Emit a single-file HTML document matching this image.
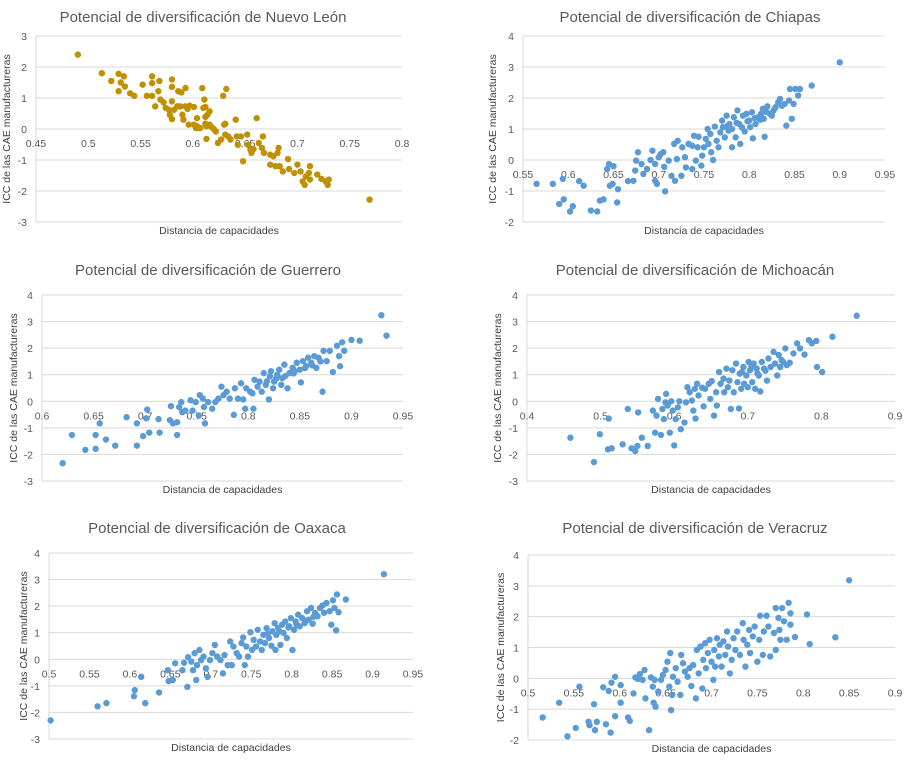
<!DOCTYPE html>
<html><head><meta charset="utf-8">
<style>
body{margin:0;background:#fff;}
svg{display:block;font-family:"Liberation Sans",sans-serif;}
</style></head>
<body>
<svg id="fig" width="911" height="763" viewBox="0 0 911 763"></svg>
<script>
// ---- Data (Distancia de capacidades, ICC) ----
const xNuevoLeon=[0.490,0.513,0.522,0.529,0.534,0.529,0.531,0.535,0.540,0.544,0.552,0.556,0.561,0.561,0.561,0.564,0.568,0.567,0.569,0.572,0.574,0.577,0.580,0.580,0.580,0.578,0.580,0.582,0.585,0.586,0.589,0.588,0.590,0.591,0.593,0.593,0.595,0.596,0.597,0.601,0.601,0.603,0.604,0.606,0.604,0.607,0.609,0.610,0.611,0.612,0.612,0.612,0.613,0.613,0.614,0.616,0.616,0.618,0.620,0.622,0.624,0.627,0.629,0.630,0.631,0.631,0.632,0.634,0.636,0.641,0.642,0.643,0.646,0.648,0.652,0.653,0.655,0.656,0.658,0.661,0.663,0.667,0.666,0.668,0.674,0.674,0.677,0.679,0.681,0.682,0.683,0.686,0.691,0.692,0.697,0.700,0.703,0.705,0.707,0.708,0.711,0.712,0.712,0.719,0.723,0.727,0.729,0.730,0.769];
const yNuevoLeon=[2.40,1.80,1.55,1.78,1.70,1.22,1.50,1.37,1.15,1.07,1.43,1.07,1.70,1.48,1.07,0.73,1.55,1.22,0.95,0.86,0.68,0.62,1.60,1.36,0.89,0.46,0.32,0.62,0.73,1.22,1.18,0.73,0.46,0.30,1.32,0.73,0.65,0.14,0.75,0.71,0.14,0.03,0.09,0.03,0.35,0.03,1.32,0.68,0.95,0.71,0.39,0.17,0.09,-0.32,0.46,0.57,0.14,0.06,0.00,-0.08,-0.45,-0.34,1.07,0.14,0.17,-0.18,1.29,-0.24,-0.34,0.30,-0.24,-0.51,-0.24,-1.04,-0.18,-0.51,-0.67,-0.77,-0.65,0.35,-0.45,-0.24,-0.61,-0.77,-0.83,-1.15,-0.88,-1.20,-0.77,-0.61,-1.20,-1.37,-0.97,-1.29,-1.42,-1.15,-1.37,-1.69,-1.80,-1.53,-1.42,-1.20,-1.63,-1.47,-1.61,-1.69,-1.80,-1.63,-2.28];

const xChiapas=[0.565,0.583,0.594,0.590,0.595,0.602,0.605,0.612,0.617,0.625,0.632,0.635,0.639,0.643,0.645,0.650,0.646,0.649,0.655,0.654,0.666,0.672,0.674,0.675,0.677,0.681,0.683,0.687,0.691,0.693,0.696,0.696,0.698,0.700,0.702,0.705,0.707,0.706,0.711,0.714,0.717,0.718,0.720,0.721,0.725,0.726,0.729,0.730,0.733,0.737,0.737,0.739,0.741,0.743,0.744,0.747,0.748,0.750,0.752,0.754,0.755,0.757,0.758,0.760,0.762,0.764,0.766,0.768,0.770,0.771,0.773,0.775,0.777,0.778,0.781,0.781,0.783,0.785,0.787,0.789,0.790,0.793,0.795,0.797,0.800,0.801,0.803,0.804,0.807,0.810,0.813,0.815,0.816,0.817,0.820,0.823,0.825,0.829,0.832,0.834,0.836,0.839,0.841,0.844,0.845,0.847,0.849,0.851,0.854,0.856,0.869,0.900,0.776,0.786,0.792,0.798,0.806,0.812,0.819,0.827];
const yChiapas=[-0.77,-0.77,-0.61,-1.42,-1.27,-1.66,-1.49,-0.68,-0.83,-1.63,-1.66,-1.31,-1.27,-0.29,-0.13,-0.20,-0.83,-0.77,-0.94,-1.37,-0.68,-0.67,-0.34,-0.02,0.25,-0.13,-0.45,-0.29,0.00,0.30,-0.13,-0.67,-0.77,0.09,0.19,0.25,-1.01,-0.22,-0.02,-0.51,0.52,-0.67,0.03,0.62,-0.51,0.41,0.09,-0.24,0.52,0.46,-0.29,0.78,-0.02,0.41,0.75,-0.18,0.14,0.41,0.68,1.00,0.52,0.84,0.25,0.00,1.08,0.62,0.41,0.89,1.27,1.06,0.73,1.43,0.95,1.16,0.41,1.00,1.38,0.73,1.60,1.16,0.52,1.43,0.92,1.49,1.27,1.06,1.54,0.70,1.16,1.38,1.49,1.65,1.33,0.75,1.73,1.49,1.43,1.70,1.86,1.97,1.75,1.81,1.11,1.92,2.29,1.33,1.81,2.29,2.08,2.29,2.40,3.15,1.10,1.20,1.05,1.25,1.35,1.30,1.55,1.60];

const xGuerrero=[0.620,0.629,0.642,0.652,0.652,0.656,0.662,0.671,0.682,0.692,0.692,0.698,0.701,0.702,0.704,0.713,0.714,0.724,0.725,0.727,0.731,0.731,0.733,0.735,0.736,0.739,0.744,0.746,0.749,0.752,0.753,0.756,0.757,0.758,0.761,0.765,0.768,0.771,0.774,0.776,0.779,0.782,0.786,0.787,0.790,0.793,0.795,0.797,0.798,0.802,0.804,0.805,0.806,0.809,0.811,0.813,0.815,0.817,0.820,0.821,0.822,0.824,0.825,0.828,0.830,0.832,0.833,0.835,0.838,0.840,0.843,0.845,0.847,0.850,0.851,0.853,0.856,0.858,0.861,0.864,0.866,0.868,0.872,0.873,0.876,0.879,0.882,0.886,0.888,0.889,0.891,0.893,0.900,0.908,0.929,0.934,0.818,0.827,0.836,0.844,0.855,0.862,0.870];
const yGuerrero=[-2.33,-1.27,-1.83,-1.79,-1.27,-0.83,-1.44,-1.67,-0.60,-0.83,-1.67,-1.31,-0.64,-0.31,-1.18,-0.67,-1.18,-0.71,-0.18,-0.83,-1.27,-0.79,-0.22,-0.03,-0.41,-0.35,0.04,-0.35,-0.03,-0.54,0.23,0.10,-0.22,-0.83,-0.03,-0.28,-0.03,0.10,0.55,0.23,0.36,0.10,-0.51,0.49,0.10,0.68,0.07,-0.28,0.49,0.36,0.30,-0.28,0.81,0.55,0.74,0.36,1.06,0.62,0.07,0.94,1.13,0.49,0.74,1.00,1.19,0.62,0.87,1.38,0.49,1.06,1.26,1.13,1.45,1.19,0.71,1.51,1.32,1.64,1.45,1.70,1.26,1.64,0.36,1.90,1.51,1.90,1.10,2.09,1.70,1.32,2.22,1.90,2.31,2.28,3.24,2.47,0.75,0.85,0.95,1.05,1.25,1.35,1.50];

const xMichoacan=[0.459,0.491,0.499,0.511,0.510,0.515,0.530,0.537,0.542,0.547,0.550,0.551,0.556,0.564,0.571,0.574,0.576,0.578,0.582,0.584,0.586,0.588,0.589,0.591,0.594,0.596,0.598,0.600,0.602,0.605,0.607,0.609,0.614,0.616,0.618,0.621,0.624,0.626,0.628,0.629,0.631,0.633,0.638,0.640,0.642,0.647,0.649,0.651,0.654,0.657,0.658,0.661,0.663,0.667,0.668,0.671,0.673,0.675,0.677,0.679,0.681,0.684,0.686,0.688,0.689,0.691,0.694,0.695,0.698,0.700,0.701,0.703,0.706,0.708,0.710,0.712,0.715,0.717,0.719,0.722,0.726,0.728,0.731,0.735,0.737,0.740,0.742,0.744,0.748,0.751,0.753,0.762,0.767,0.771,0.777,0.783,0.787,0.793,0.794,0.801,0.815,0.848,0.692,0.705,0.713,0.724,0.746,0.757];
const yMichoacan=[-1.37,-2.29,-1.24,-0.65,-1.81,-1.77,-1.62,-0.29,-1.77,-1.87,-1.68,-0.42,-1.37,-1.68,-0.35,-1.18,-0.54,0.09,-1.27,-0.29,-0.67,-0.04,0.28,-0.16,-1.18,0.00,-0.35,-1.66,-0.67,-0.23,0.00,-1.05,-0.80,-0.04,0.53,0.34,0.03,-0.35,0.47,-0.65,0.66,0.22,0.51,-0.19,0.47,0.66,0.09,0.76,-0.54,0.34,-0.16,1.10,0.66,0.85,0.34,1.23,0.53,0.78,-0.29,1.17,0.34,1.42,0.72,-0.27,1.04,0.47,1.29,0.66,0.97,0.53,1.48,1.17,0.72,1.42,0.47,1.23,0.97,0.37,1.48,1.23,0.78,1.61,1.29,1.86,1.42,0.97,1.74,1.29,1.48,1.99,1.36,1.80,2.18,1.99,1.76,2.30,2.18,2.27,1.29,1.10,2.43,3.22,1.10,1.30,1.05,1.15,1.55,1.45];

const xOaxaca=[0.502,0.560,0.571,0.605,0.606,0.614,0.619,0.636,0.647,0.648,0.653,0.656,0.665,0.667,0.671,0.672,0.676,0.678,0.680,0.682,0.683,0.686,0.688,0.691,0.694,0.696,0.699,0.702,0.705,0.708,0.712,0.715,0.717,0.721,0.724,0.726,0.728,0.732,0.735,0.738,0.740,0.742,0.744,0.746,0.749,0.751,0.753,0.756,0.758,0.761,0.763,0.765,0.767,0.769,0.772,0.775,0.776,0.779,0.780,0.781,0.783,0.786,0.788,0.790,0.792,0.794,0.797,0.799,0.801,0.803,0.805,0.808,0.810,0.813,0.816,0.819,0.821,0.824,0.826,0.829,0.832,0.835,0.838,0.843,0.847,0.849,0.851,0.853,0.855,0.856,0.858,0.867,0.914,0.770,0.785,0.796,0.806,0.818,0.827,0.840];
const yOaxaca=[-2.30,-1.77,-1.65,-1.39,-1.16,-0.66,-1.65,-1.25,-0.41,-0.82,-0.78,-0.15,-0.41,-0.13,-1.04,0.08,-0.09,-0.41,0.23,-0.78,-0.22,0.35,-0.03,0.10,-0.34,-0.66,-0.03,0.23,0.54,0.10,-0.03,-0.53,0.16,-0.22,0.67,-0.22,0.48,0.23,0.10,0.61,0.82,-0.22,0.48,0.10,1.02,0.35,0.73,0.48,1.11,0.67,0.35,0.92,0.61,1.17,0.80,0.51,1.05,1.36,0.35,0.92,1.17,0.54,1.30,0.99,1.42,0.80,1.24,1.55,0.35,1.11,1.42,1.68,1.24,1.55,1.36,1.81,1.49,1.93,1.34,1.74,1.62,1.93,2.02,2.12,1.81,1.30,2.22,1.93,1.09,2.44,1.77,2.25,3.20,0.95,1.05,1.20,1.30,1.45,1.60,1.75];

const xVeracruz=[0.516,0.534,0.543,0.552,0.556,0.566,0.567,0.572,0.573,0.575,0.582,0.585,0.588,0.590,0.591,0.595,0.595,0.601,0.601,0.609,0.611,0.615,0.617,0.620,0.622,0.625,0.627,0.628,0.632,0.634,0.636,0.637,0.638,0.639,0.642,0.645,0.647,0.650,0.652,0.654,0.655,0.656,0.657,0.658,0.661,0.663,0.666,0.667,0.669,0.671,0.674,0.676,0.678,0.680,0.683,0.684,0.686,0.688,0.690,0.691,0.693,0.694,0.696,0.698,0.700,0.702,0.703,0.704,0.706,0.708,0.709,0.711,0.713,0.715,0.717,0.718,0.720,0.722,0.724,0.726,0.728,0.731,0.734,0.735,0.737,0.739,0.741,0.742,0.745,0.747,0.750,0.752,0.753,0.756,0.757,0.760,0.762,0.764,0.768,0.770,0.770,0.773,0.774,0.775,0.777,0.779,0.782,0.784,0.786,0.786,0.791,0.804,0.807,0.835,0.850];
const yVeracruz=[-1.27,-0.79,-1.88,-1.61,-0.27,-1.41,-1.52,-0.84,-1.68,-1.41,-0.29,-1.49,-0.41,-1.76,-0.14,0.05,-1.23,-0.22,-0.79,-1.27,-1.38,-0.49,0.03,-0.02,0.14,-0.05,0.27,-0.65,-1.68,0.03,-0.27,-0.79,-0.05,-0.92,-0.43,-0.05,0.11,0.27,0.54,-0.27,0.82,-1.03,-0.54,0.05,0.33,-0.11,-0.54,0.76,0.49,0.22,0.05,0.33,-0.25,0.43,-0.65,0.92,0.16,1.03,-0.33,0.60,1.14,0.33,0.82,1.25,0.54,-0.05,0.92,0.38,1.30,0.71,1.09,0.38,1.20,0.76,1.52,1.03,0.16,0.60,1.30,0.92,1.52,0.76,1.79,1.25,0.38,1.09,1.57,0.82,1.36,1.68,0.54,1.25,2.03,0.76,1.52,2.03,1.68,0.71,1.47,0.92,2.28,1.96,1.57,1.25,2.28,1.85,1.25,2.45,2.11,1.74,1.34,2.07,1.11,1.33,3.18];

// ---- Tick labels ----
const xTicksNuevoLeon=[0.45,0.5,0.55,0.6,0.65,0.7,0.75,0.8];
const yTicksNuevoLeon=[-3,-2,-1,0,1,2,3];
const xTicksChiapas=[0.55,0.6,0.65,0.7,0.75,0.8,0.85,0.9,0.95];
const yTicksChiapas=[-2,-1,0,1,2,3,4];
const xTicksGuerrero=[0.6,0.65,0.7,0.75,0.8,0.85,0.9,0.95];
const yTicksGuerrero=[-3,-2,-1,0,1,2,3,4];
const xTicksMichoacan=[0.4,0.5,0.6,0.7,0.8,0.9];
const yTicksMichoacan=[-3,-2,-1,0,1,2,3,4];
const xTicksOaxaca=[0.5,0.55,0.6,0.65,0.7,0.75,0.8,0.85,0.9,0.95];
const yTicksOaxaca=[-3,-2,-1,0,1,2,3,4];
const xTicksVeracruz=[0.5,0.55,0.6,0.65,0.7,0.75,0.8,0.85,0.9];
const yTicksVeracruz=[-2,-1,0,1,2,3,4];

const NS="http://www.w3.org/2000/svg";
const svg=document.getElementById('fig');
function mk(tag,attrs,parent){const e=document.createElementNS(NS,tag);for(const k in attrs)e.setAttribute(k,attrs[k]);parent.appendChild(e);return e;}

const charts=[
 {key:'nuevo-leon',title:'Potencial de diversificación de Nuevo León',xs:xNuevoLeon,ys:yNuevoLeon,xt:xTicksNuevoLeon,yt:yTicksNuevoLeon,color:'#BF9000',L:36,R:402,T:36,B:222,tx:203,ty:22,yx:10},
 {key:'chiapas',title:'Potencial de diversificación de Chiapas',xs:xChiapas,ys:yChiapas,xt:xTicksChiapas,yt:yTicksChiapas,color:'#5B9BD5',L:523,R:885,T:36,B:222,tx:690,ty:22,yx:496},
 {key:'guerrero',title:'Potencial de diversificación de Guerrero',xs:xGuerrero,ys:yGuerrero,xt:xTicksGuerrero,yt:yTicksGuerrero,color:'#5B9BD5',L:42,R:403,T:295,B:481,tx:208,ty:275,yx:17},
 {key:'michoacan',title:'Potencial de diversificación de Michoacán',xs:xMichoacan,ys:yMichoacan,xt:xTicksMichoacan,yt:yTicksMichoacan,color:'#5B9BD5',L:527,R:895,T:295,B:481,tx:695,ty:275,yx:501},
 {key:'oaxaca',title:'Potencial de diversificación de Oaxaca',xs:xOaxaca,ys:yOaxaca,xt:xTicksOaxaca,yt:yTicksOaxaca,color:'#5B9BD5',L:49,R:413,T:553,B:739,tx:217,ty:533,yx:27},
 {key:'veracruz',title:'Potencial de diversificación de Veracruz',xs:xVeracruz,ys:yVeracruz,xt:xTicksVeracruz,yt:yTicksVeracruz,color:'#5B9BD5',L:528,R:895,T:555,B:740,tx:695,ty:533,yx:504}
];

charts.forEach(c=>{
  const g=mk('g',{},svg);
  
  
  const xmin=c.xt[0],xmax=c.xt[c.xt.length-1],ymin=c.yt[0],ymax=c.yt[c.yt.length-1];
  const X=v=>c.L+(v-xmin)/(xmax-xmin)*(c.R-c.L);
  const Y=v=>c.B-(v-ymin)/(ymax-ymin)*(c.B-c.T);
  const t=mk('text',{x:c.tx,y:c.ty,'text-anchor':'middle','font-size':'15','fill':'#595959'},g);
  t.textContent=c.title;
  
  
  c.yt.forEach(v=>{
    const ln=mk('line',{x1:c.L,x2:c.R,y1:Y(v),y2:Y(v),stroke:'#D9D9D9','stroke-width':'1'},g);
    
    
    const lb=mk('text',{x:c.L-9,y:Y(v)+4,'text-anchor':'end','font-size':'10.5','fill':'#595959'},g);
    lb.textContent=String(v);
    
    
  });
  const ax=mk('line',{x1:c.L,x2:c.L,y1:c.T,y2:c.B,stroke:'#D9D9D9','stroke-width':'1'},g);
  
  
  const zy=Y(0);
  c.xt.forEach(v=>{
    const lb=mk('text',{x:X(v),y:zy+18,'text-anchor':'middle','font-size':'10.5','fill':'#595959'},g);
    lb.textContent=String(v);
    
    
  });
  const xtl=mk('text',{x:(c.L+c.R)/2,y:c.B+12,'text-anchor':'middle','font-size':'10.5','fill':'#404040'},g);
  xtl.textContent='Distancia de capacidades';
  
  
  const cy=(c.T+c.B)/2;
  const ytl=mk('text',{x:c.yx,y:cy,'text-anchor':'middle','font-size':'10.5','fill':'#404040',transform:'rotate(-90 '+c.yx+' '+cy+')'},g);
  ytl.textContent='ICC de las CAE manufactureras';
  
  
  c.xs.forEach((v,i)=>{
    const p=mk('circle',{cx:X(v),cy:Y(c.ys[i]),r:'3.2',fill:c.color},g);
    
    
  });
});
</script>
</body></html>
